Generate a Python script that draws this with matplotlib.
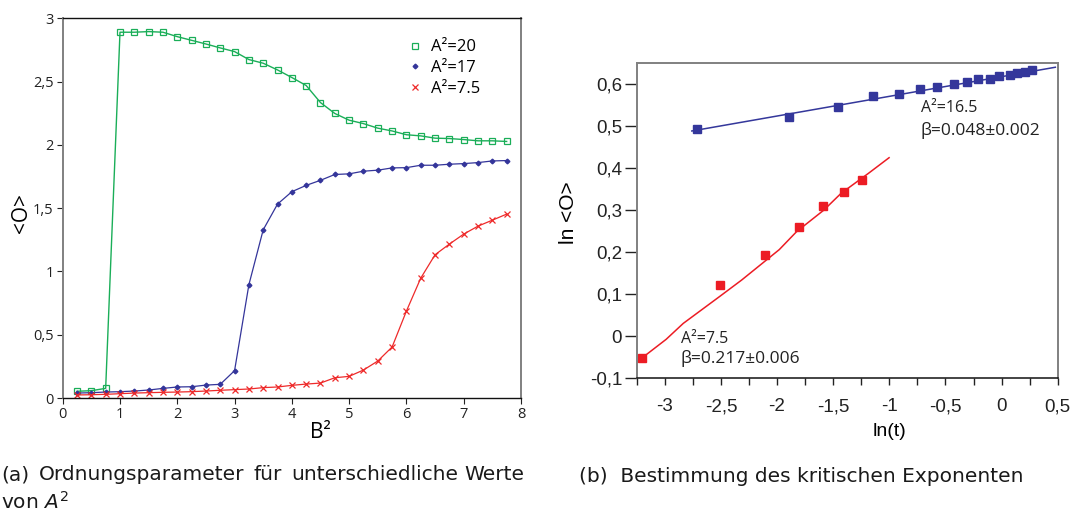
import matplotlib
matplotlib.use("Agg")
import matplotlib.pyplot as plt
from matplotlib.ticker import MultipleLocator

# ---------------- data: panel (a) ----------------
b2_green = [0.25, 0.5, 0.75, 1.0, 1.25, 1.5, 1.75, 2.0, 2.25, 2.5, 2.75, 3.0, 3.25, 3.5,
            3.75, 4.0, 4.25, 4.5, 4.75, 5.0, 5.25, 5.5, 5.75, 6.0, 6.25, 6.5, 6.75,
            7.0, 7.25, 7.5, 7.75]
o_green = [0.053, 0.058, 0.076, 2.89, 2.89, 2.895, 2.89, 2.855, 2.826, 2.797, 2.766,
           2.737, 2.674, 2.645, 2.592, 2.532, 2.469, 2.334, 2.248, 2.195, 2.168, 2.132,
           2.11, 2.08, 2.071, 2.053, 2.05, 2.042, 2.032, 2.032, 2.027]

b2_all = [0.25, 0.5, 0.75, 1.0, 1.25, 1.5, 1.75, 2.0, 2.25, 2.5, 2.75, 3.0, 3.25, 3.5,
          3.75, 4.0, 4.25, 4.5, 4.75, 5.0, 5.25, 5.5, 5.75, 6.0, 6.25, 6.5, 6.75,
          7.0, 7.25, 7.5, 7.75]
o_blue = [0.039, 0.042, 0.047, 0.05, 0.055, 0.063, 0.076, 0.087, 0.089, 0.102, 0.108,
          0.216, 0.895, 1.329, 1.532, 1.63, 1.68, 1.72, 1.766, 1.771, 1.792, 1.80,
          1.818, 1.82, 1.839, 1.839, 1.847, 1.852, 1.86, 1.873, 1.876]
o_red = [0.024, 0.026, 0.029, 0.034, 0.039, 0.042, 0.045, 0.047, 0.05, 0.055, 0.061,
         0.066, 0.071, 0.082, 0.087, 0.10, 0.11, 0.118, 0.16, 0.171, 0.221, 0.292,
         0.403, 0.687, 0.947, 1.132, 1.216, 1.295, 1.358, 1.405, 1.453]

legend_labels = ["A²=20", "A²=17", "A²=7.5"]
a_xticks = [0, 1, 2, 3, 4, 5, 6, 7, 8]
a_yticks = [0, 0.5, 1, 1.5, 2, 2.5, 3]
a_yticklabels = ["0", "0,5", "1", "1,5", "2", "2,5", "3"]

# ---------------- data: panel (b) ----------------
lnt_blue = [-2.713, -1.897, -1.461, -1.149, -0.917, -0.728, -0.575, -0.428, -0.306,
            -0.214, -0.101, -0.025, 0.073, 0.134, 0.207, 0.271]
lno_blue = [0.4934, 0.5221, 0.5467, 0.5714, 0.5769, 0.5889, 0.5936, 0.6016, 0.6056,
            0.6135, 0.6135, 0.6191, 0.6231, 0.6270, 0.6302, 0.6350]
fit_blue_x = [-2.759, 0.479]
fit_blue_y = [0.4887, 0.6406]

lnt_red = [-3.202, -2.511, -2.105, -1.806, -1.589, -1.400, -1.247]
lno_red = [-0.0524, 0.1222, 0.1929, 0.2596, 0.3105, 0.3431, 0.3726]
fit_red_x = [-3.2535, -2.988, -2.835, -2.514, -2.316, -1.980, -1.827, -1.583, -1.430,
             -1.186, -1.002]
fit_red_y = [-0.0627, -0.0079, 0.0302, 0.0937, 0.1333, 0.2060, 0.2485, 0.3002, 0.340,
             0.3877, 0.425]

b_xticks = [-3, -2.5, -2, -1.5, -1, -0.5, 0, 0.5]
b_xticklabels = ["-3", "-2,5", "-2", "-1,5", "-1", "-0,5", "0", "0,5"]
b_yticks = [-0.1, 0, 0.1, 0.2, 0.3, 0.4, 0.5, 0.6]
b_yticklabels = ["-0,1", "0", "0,1", "0,2", "0,3", "0,4", "0,5", "0,6"]

GREEN = "#1aae58"
BLUE = "#34359a"
RED = "#ee2a2a"
BLUE_B = "#34379b"
RED_B = "#ec1c24"
GRAY = "#808080"

W, H = 1077, 515
fig = plt.figure(figsize=(W / 100, H / 100), dpi=100)

def fx(px):
    return px / W

def fy(py):
    return 1 - py / H

# ---------------- panel (a) ----------------
axa = fig.add_axes([fx(62.7), fy(398), fx(521 - 62.7), (398 - 18.3) / H])
axa.plot(b2_green, o_green, color=GREEN, lw=1.0, marker="s", ms=4.0,
         mfc="none", mec=GREEN, mew=0.9, label=legend_labels[0])
axa.plot(b2_all, o_blue, color=BLUE, lw=0.9, marker="D", ms=2.4,
         mfc=BLUE, mec=BLUE, label=legend_labels[1])
axa.plot(b2_all, o_red, color=RED, lw=0.9, marker="x", ms=4.0, mew=0.9,
         label=legend_labels[2])
axa.set_xlim(0, 8)
axa.set_ylim(0, 3)
axa.set_xticks(a_xticks)
axa.set_xticklabels([str(t) for t in a_xticks])
axa.set_yticks(a_yticks)
axa.set_yticklabels(a_yticklabels)
axa.tick_params(direction="out", length=4, width=0.8, pad=2.5, labelsize=10.5,
                colors="#222222")
for lab in axa.get_xticklabels() + axa.get_yticklabels():
    lab.set_family("Open Sans")
axa.spines["left"].set_color(GRAY)
axa.spines["left"].set_linewidth(1.4)
axa.spines["right"].set_color(GRAY)
axa.spines["right"].set_linewidth(1.4)
axa.spines["top"].set_color("#111111")
axa.spines["top"].set_linewidth(1.0)
axa.spines["bottom"].set_color("#111111")
axa.spines["bottom"].set_linewidth(1.0)
leg = axa.legend(loc="upper left", bbox_to_anchor=(0.735, 0.962), frameon=False,
                 handlelength=1.0, handletextpad=0.5, labelspacing=0.28,
                 prop={"family": "Open Sans", "size": 12}, borderaxespad=0)
for h in leg.legend_handles:
    h.set_linestyle("none")

fig.text(fx(320), fy(433), "B²", family="Open Sans", fontsize=15,
         ha="center", va="center")
fig.text(fx(21), fy(213), "<O>", family="Open Sans", fontsize=15,
         ha="center", va="center", rotation=90)

# ---------------- panel (b) ----------------
axb = fig.add_axes([fx(636.7), fy(378), fx(1057.7 - 636.7), (378 - 63.3) / H])
axb.plot(fit_blue_x, fit_blue_y, color=BLUE_B, lw=1.1)
axb.plot(lnt_blue, lno_blue, ls="none", marker="s", ms=5.2, color=BLUE_B)
axb.plot(fit_red_x, fit_red_y, color=RED_B, lw=1.1)
axb.plot(lnt_red, lno_red, ls="none", marker="s", ms=5.2, color=RED_B)
axb.set_xlim(-3.25, 0.5)
axb.set_ylim(-0.1, 0.65)
axb.set_xticks(b_xticks)
axb.set_xticklabels(b_xticklabels)
axb.xaxis.set_minor_locator(MultipleLocator(0.25))
axb.set_yticks(b_yticks)
axb.set_yticklabels(b_yticklabels)
axb.tick_params(axis="x", which="both", direction="out", length=5, width=1.0,
                pad=9.5, labelsize=13.5, colors="#222222")
axb.tick_params(axis="y", direction="out", length=9, width=1.0, pad=1.5,
                labelsize=13.5, colors="#222222")
for lab in axb.get_xticklabels() + axb.get_yticklabels():
    lab.set_family("Liberation Sans")
for s in ["left", "right", "top"]:
    axb.spines[s].set_color(GRAY)
    axb.spines[s].set_linewidth(1.4)
axb.spines["bottom"].set_color("#111111")
axb.spines["bottom"].set_linewidth(1.1)

axb.text(-0.72, 0.543, "A²=16.5", family="Open Sans", fontsize=11.5,
         ha="left", va="center", color="#222222")
axb.text(-0.72, 0.491, "β=0.048±0.002", family="Open Sans", fontsize=12.5,
         ha="left", va="center", color="#222222")
axb.text(-2.859, -0.0078, "A²=7.5", family="Open Sans", fontsize=11.5,
         ha="left", va="center", color="#222222")
axb.text(-2.859, -0.053, "β=0.217±0.006", family="Open Sans", fontsize=12.5,
         ha="left", va="center", color="#222222")

fig.text(fx(890), fy(431), "ln(t)", family="Liberation Sans", fontsize=14,
         ha="center", va="center")
fig.text(fx(568), fy(213), "ln <O>", family="Liberation Sans", fontsize=15,
         ha="center", va="center", rotation=90)

# ---------------- captions ----------------
cap_font = {"family": "DejaVu Sans", "fontsize": 14.5, "color": "#1a1a1a"}
fig.text(fx(1), fy(475), "(a)", ha="left", va="center", **cap_font)
fig.text(fx(39), fy(475), "Ordnungsparameter", ha="left", va="center", **cap_font)
fig.text(fx(253), fy(475), "für", ha="left", va="center", **cap_font)
fig.text(fx(291), fy(475), "unterschiedliche", ha="left", va="center", **cap_font)
fig.text(fx(524), fy(475), "Werte", ha="right", va="center", **cap_font)
fig.text(fx(1), fy(502), "von $A^2$", ha="left", va="center", **cap_font)
fig.text(fx(578.8), fy(476), "(b)  Bestimmung des kritischen Exponenten",
         ha="left", va="center", **cap_font)

fig.savefig("out.png", dpi=100)
